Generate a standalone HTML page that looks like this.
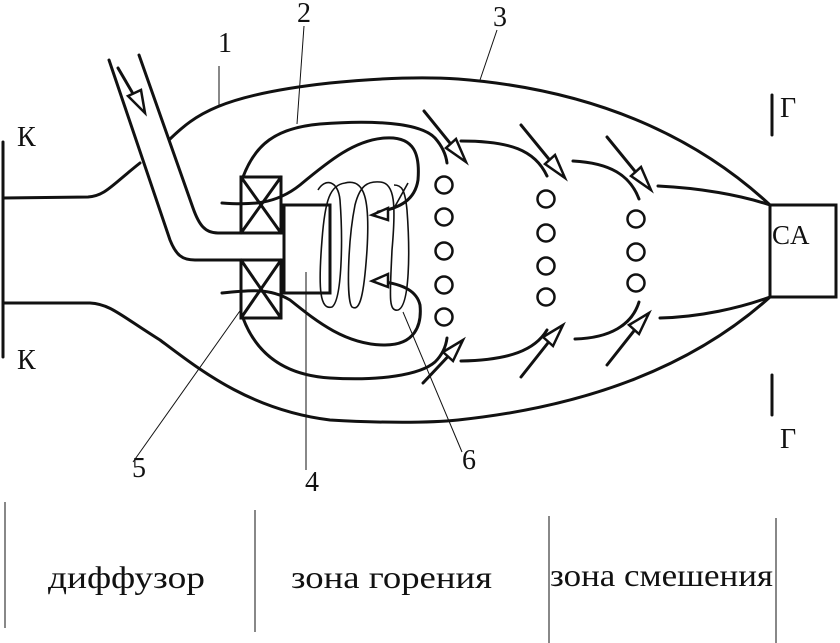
<!DOCTYPE html>
<html><head><meta charset="utf-8"><style>
html,body{margin:0;padding:0;background:#fff;}
svg{display:block;}
text{font-family:"Liberation Serif",serif;fill:#111;}
</style></head><body>
<svg width="840" height="643" viewBox="0 0 840 643" xmlns="http://www.w3.org/2000/svg">
<g fill="none" stroke="#111" stroke-width="3" stroke-linecap="round">
<line x1="3" y1="142" x2="3" y2="357"/>
<path d="M3,198 L88,197 C105,196 112,185 140,163"/>
<path d="M170,139 C195,115 220,95 330,83 C390,77 430,77 458,79 C600,90 700,140 770,205"/>
<path d="M3,303 L90,303 C110,304 120,315 160,340 C200,370 250,410 330,420 C380,423 430,423 458,420 C600,405 700,360 770,297"/>
<path d="M139,55 L193,208 C199,225 205,233 218,233 L241,233"/>
<path d="M109,60 L170,240 C176,255 182,260 195,260 L241,260"/>
<rect x="770" y="205" width="66" height="92"/>
<rect x="241" y="177" width="40" height="56"/>
<line x1="241" y1="177" x2="281" y2="233"/><line x1="281" y1="177" x2="241" y2="233"/>
<rect x="241" y="260" width="40" height="58"/>
<line x1="241" y1="260" x2="281" y2="318"/><line x1="281" y1="260" x2="241" y2="318"/>
<rect x="284" y="205" width="46" height="88"/>
<path d="M243,177 C255,145 275,128 320,124 C370,120 420,122 435,138 C442,146 446,155 447,163"/>
<path d="M243,318 C255,350 280,375 330,378 C380,381 420,375 435,362 C442,355 446,346 447,338"/>
<path d="M222,203 C250,205 275,205 300,185 C330,160 355,140 385,138 C415,136 420,155 418,180 C415,200 400,208 378,212"/>
<path d="M222,293 C250,290 270,288 290,300 C315,320 345,345 385,345 C415,345 422,325 420,305 C417,292 405,284 378,281"/>
<path d="M461,141 C510,141 535,150 547,176"/>
<path d="M573,161 C610,163 630,175 639,199"/>
<path d="M658,186 C700,188 740,195 770,205"/>
<path d="M461,361 C510,360 535,350 547,330"/>
<path d="M575,339 C610,338 632,325 639,302"/>
<path d="M660,318 C700,317 740,308 770,297"/>
<line x1="424" y1="111" x2="458" y2="153"/>
<line x1="521" y1="125" x2="557" y2="169"/>
<line x1="607" y1="137" x2="643" y2="181"/>
<line x1="423" y1="383" x2="455" y2="349"/>
<line x1="521" y1="377" x2="555" y2="334"/>
<line x1="607" y1="365" x2="641" y2="322"/>
<line x1="118" y1="68" x2="132" y2="92"/>
<line x1="772" y1="95" x2="772" y2="135"/>
<line x1="772" y1="375" x2="772" y2="415"/>
</g>
<g fill="#fff" stroke="#111" stroke-width="2.5" stroke-linejoin="miter">
<polygon points="466,162 446,148 456,139"/>
<polygon points="565,178 545,164 555,155"/>
<polygon points="651,190 631,176 641,167"/>
<polygon points="463,340 443,352 453,361"/>
<polygon points="563,325 543,337 553,346"/>
<polygon points="649,313 629,325 639,334"/>
<polygon points="145,113 128,96 141,90"/>
<polygon points="372,215 388,208 388,220"/>
<polygon points="372,281 388,274 388,287"/>
</g>
<path fill="none" stroke="#111" stroke-width="1.6" d="M318,190 C325,178 338,180 340,200 C343,240 342,300 332,307 C320,310 318,290 322,240 C325,200 330,185 345,183 C365,178 370,200 367,250 C364,295 360,312 352,307 C346,300 348,240 355,205 C360,185 368,181 380,182 C395,183 396,205 392,250 C390,295 388,312 398,310 C410,306 410,250 407,210 C405,190 402,185 394,185 M408,183 L393,210"/>
<g fill="none" stroke="#111" stroke-width="2.5">
<circle cx="444" cy="185" r="8.5"/><circle cx="444" cy="217" r="8.5"/><circle cx="444" cy="251" r="8.5"/><circle cx="444" cy="285" r="8.5"/><circle cx="444" cy="317" r="8.5"/>
<circle cx="546" cy="199" r="8.5"/><circle cx="546" cy="233" r="8.5"/><circle cx="546" cy="266" r="8.5"/><circle cx="546" cy="297" r="8.5"/>
<circle cx="636" cy="219" r="8.5"/><circle cx="636" cy="252" r="8.5"/><circle cx="636" cy="283" r="8.5"/>
</g>
<g stroke="#111" stroke-width="1">
<line x1="219" y1="66" x2="219" y2="106"/>
<line x1="304" y1="26" x2="297" y2="124"/>
<line x1="497" y1="30" x2="480" y2="80"/>
<line x1="133" y1="462" x2="242" y2="308"/>
<line x1="306" y1="470" x2="306" y2="272"/>
<line x1="462" y1="452" x2="403" y2="312"/>
<line x1="5" y1="502" x2="5" y2="628"/>
<line x1="255" y1="510" x2="255" y2="632"/>
<line x1="549" y1="516" x2="549" y2="643"/>
<line x1="776" y1="518" x2="776" y2="643"/>
</g>
<g font-size="28">
<text x="17" y="146">К</text>
<text x="17" y="369">К</text>
<text x="218" y="52">1</text>
<text x="297" y="22">2</text>
<text x="493" y="26">3</text>
<text x="780" y="117">Г</text>
<text x="780" y="448">Г</text>
<text x="772" y="244" font-size="27">CA</text>
<text x="132" y="477">5</text>
<text x="305" y="491">4</text>
<text x="462" y="469">6</text>
</g>
<g font-size="32">
<text x="48" y="588" textLength="157" lengthAdjust="spacingAndGlyphs">диффузор</text>
<text x="291" y="588" textLength="201" lengthAdjust="spacingAndGlyphs">зона горения</text>
<text x="550" y="586" textLength="223" lengthAdjust="spacingAndGlyphs">зона смешения</text>
</g>
</svg>
</body></html>
